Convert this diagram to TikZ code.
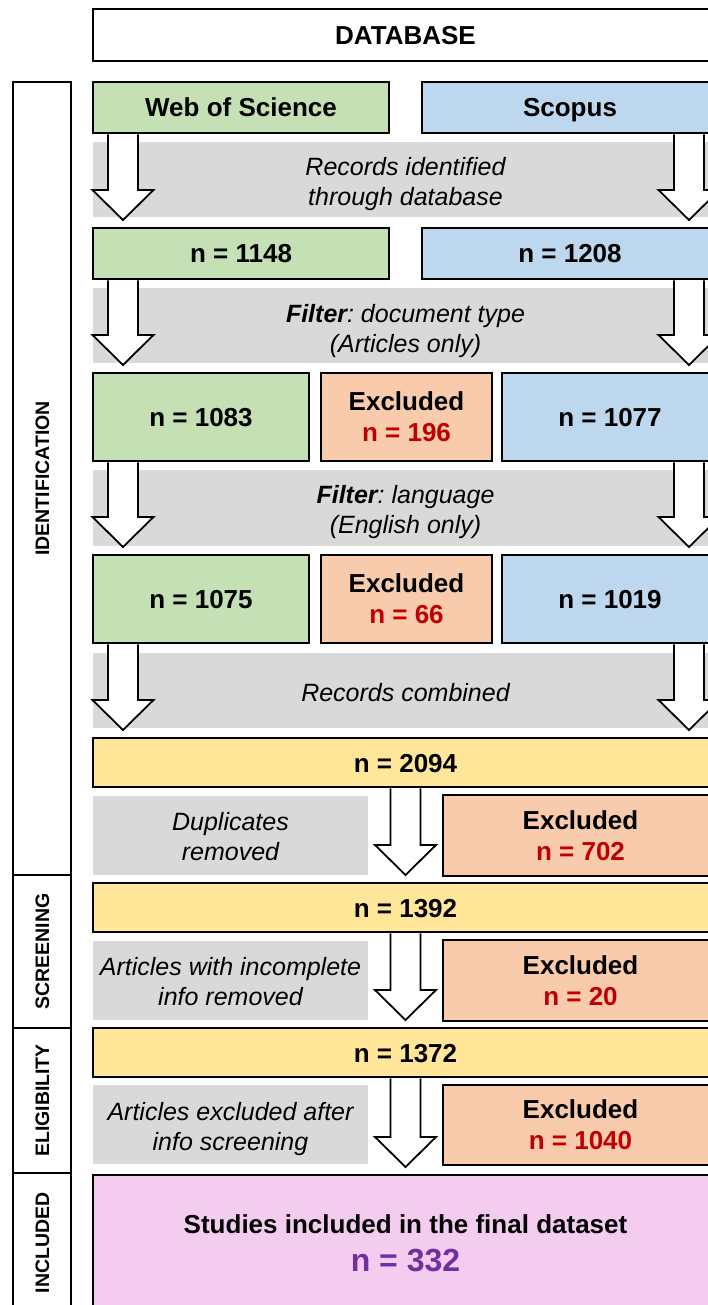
\documentclass[tikz,border=0pt]{standalone}
\usepackage{fontspec}
\setmainfont{Liberation Sans}
\usetikzlibrary{calc}
\frenchspacing
\definecolor{cgreen}{HTML}{C5E0B4}
\definecolor{cblue}{HTML}{BDD7EE}
\definecolor{cpeach}{HTML}{F8CBAD}
\definecolor{cyellow}{HTML}{FFE699}
\definecolor{cgray}{HTML}{D9D9D9}
\definecolor{cpink}{HTML}{F4CCF0}
\definecolor{cred}{HTML}{C00000}
\definecolor{cpurple}{HTML}{7030A0}
\newcommand\blockarrow[2]{%
  \draw[barrow] let \p1=#1, \p2=#2 in
    (\x1-15pt,\y1-1.3pt) -- (\x1-15pt,\y2+38pt) -- (\x1-30.5pt,\y2+38pt) --
    (\x1,\y2+8pt) -- (\x1+30.5pt,\y2+38pt) -- (\x1+15pt,\y2+38pt) -- (\x1+15pt,\y1-1.3pt);}
\begin{document}
\begin{tikzpicture}[x=1pt,y=-1pt,
  every node/.style={inner sep=0pt, outer sep=0pt},
  box/.style={draw=black, line width=2.5pt, rectangle, anchor=north west,
    font=\bfseries\fontsize{26}{31}\selectfont, align=center},
  single/.style={text height=19pt, text depth=0pt},
  band/.style={fill=cgray, rectangle, anchor=north west},
  itext/.style={font=\itshape\fontsize{25}{30}\selectfont, align=center},
  side/.style={draw=black, line width=2.5pt, rectangle, anchor=north west, minimum width=58pt},
  sidelabel/.style={rotate=90, font=\bfseries\fontsize{19.5}{23}\selectfont, text height=14pt, text depth=0pt},
  barrow/.style={draw=black, fill=white, line width=1.8pt, line join=miter}
]
\useasboundingbox (0,0) rectangle (708,1305);
\clip (0,0) rectangle (708,1305);

% side column
\node[side, minimum height=793pt] (ident) at (13,82) {};
\node[side, minimum height=153pt] (screen) at (13,875) {};
\node[side, minimum height=145pt] (elig) at (13,1028) {};
\node[side, minimum height=140pt] (incl) at (13,1173) {};
\node[sidelabel] (identl) at (ident.center) {IDENTIFICATION};
\node[sidelabel] (screenl) at (screen.center) {SCREENING};
\node[sidelabel] (eligl) at (elig.center) {ELIGIBILITY};
\node[sidelabel] (incll) at (incl.center) {INCLUDED};

% boxes
\node[box, single, minimum width=625pt, minimum height=52pt, fill=white] (db) at (93,9) {DATABASE};
\node[box, single, minimum width=296pt, minimum height=51pt, fill=cgreen] (wos) at (93,82) {Web of Science};
\node[box, single, minimum width=296pt, minimum height=51pt, fill=cblue] (sco) at (422,82) {Scopus};
\node[box, single, minimum width=296pt, minimum height=51pt, fill=cgreen] (n1148) at (93,228) {n = 1148};
\node[box, single, minimum width=296pt, minimum height=51pt, fill=cblue] (n1208) at (422,228) {n = 1208};
\node[box, single, minimum width=216pt, minimum height=88pt, fill=cgreen] (n1083) at (93,373) {n = 1083};
\node[box, minimum width=171pt, minimum height=88pt, fill=cpeach] (e196) at (321,373) {Excluded\\\textcolor{cred}{n = 196}};
\node[box, single, minimum width=216pt, minimum height=88pt, fill=cblue] (n1077) at (502,373) {n = 1077};
\node[box, single, minimum width=216pt, minimum height=88pt, fill=cgreen] (n1075) at (93,555) {n = 1075};
\node[box, minimum width=171pt, minimum height=88pt, fill=cpeach] (e66) at (321,555) {Excluded\\\textcolor{cred}{n = 66}};
\node[box, single, minimum width=216pt, minimum height=88pt, fill=cblue] (n1019) at (502,555) {n = 1019};
\node[box, single, minimum width=625pt, minimum height=49pt, fill=cyellow] (n2094) at (93,738) {n = 2094};
\node[box, minimum width=275pt, minimum height=81pt, fill=cpeach] (e702) at (443,795) {Excluded\\\textcolor{cred}{n = 702}};
\node[box, single, minimum width=625pt, minimum height=49pt, fill=cyellow] (n1392) at (93,883) {n = 1392};
\node[box, minimum width=275pt, minimum height=81pt, fill=cpeach] (e20) at (443,940) {Excluded\\\textcolor{cred}{n = 20}};
\node[box, single, minimum width=625pt, minimum height=49pt, fill=cyellow] (n1372) at (93,1028) {n = 1372};
\node[box, minimum width=275pt, minimum height=80pt, fill=cpeach] (e1040) at (443,1085) {Excluded\\\textcolor{cred}{n = 1040}};
\node[box, minimum width=625pt, minimum height=137pt, fill=cpink] (final) at (93,1175)
  {Studies included in the final dataset\\[7pt]{\color{cpurple}\fontsize{32}{38}\selectfont n = 332}};

% gray bands
\node[band, minimum width=640pt, minimum height=75pt] (g1) at (93,142) {};
\node[band, minimum width=640pt, minimum height=75pt] (g2) at (93,288) {};
\node[band, minimum width=640pt, minimum height=76pt] (g3) at (93,470) {};
\node[band, minimum width=640pt, minimum height=75pt] (g4) at (93,653) {};
\node[band, minimum width=275pt, minimum height=79pt] (g5) at (93,796) {};
\node[band, minimum width=275pt, minimum height=79pt] (g6) at (93,941) {};
\node[band, minimum width=275pt, minimum height=79pt] (g7) at (93,1085) {};
\node[itext] (t1) at ($(db.center |- g1.center)+(0,5)$) {Records identified\\through database};
\node[itext] (t2) at ($(db.center |- g2.center)+(0,5.5)$) {\textbf{Filter}: document type\\(Articles only)};
\node[itext] (t3) at ($(db.center |- g3.center)+(0,4.5)$) {\textbf{Filter}: language\\(English only)};
\node[itext, text height=19pt, text depth=0pt] (t4) at ($(db.center |- g4.center)+(0,1.5)$) {Records combined};
\node[itext] (t5) at ($(g5.center)+(0,1)$) {Duplicates\\removed};
\node[itext] (t6) at ($(g6.center)+(0,1)$) {Articles with incomplete\\info removed};
\node[itext] (t7) at ($(g7.center)+(0,4.5)$) {Articles excluded after\\info screening};

% block arrows
\coordinate (aw1) at ($(wos.south west)+(30,0)$);
\coordinate (aw2) at ($(n1148.south west)+(30,0)$);
\coordinate (aw3) at ($(n1083.south west)+(30,0)$);
\coordinate (aw4) at ($(n1075.south west)+(30,0)$);
\coordinate (as1) at ($(sco.south east)+(-29,0)$);
\coordinate (as2) at ($(n1208.south east)+(-29,0)$);
\coordinate (as3) at ($(n1077.south east)+(-29,0)$);
\coordinate (as4) at ($(n1019.south east)+(-29,0)$);
\blockarrow{(aw1)}{(n1148.north)}
\blockarrow{(aw2)}{(n1083.north)}
\blockarrow{(aw3)}{(n1075.north)}
\blockarrow{(aw4)}{(n2094.north)}
\blockarrow{(as1)}{(n1208.north)}
\blockarrow{(as2)}{(n1077.north)}
\blockarrow{(as3)}{(n1019.north)}
\blockarrow{(as4)}{(n2094.north)}
\blockarrow{(n2094.south)}{(n1392.north)}
\blockarrow{(n1392.south)}{(n1372.north)}
\blockarrow{(n1372.south)}{(final.north)}
\end{tikzpicture}
\end{document}
